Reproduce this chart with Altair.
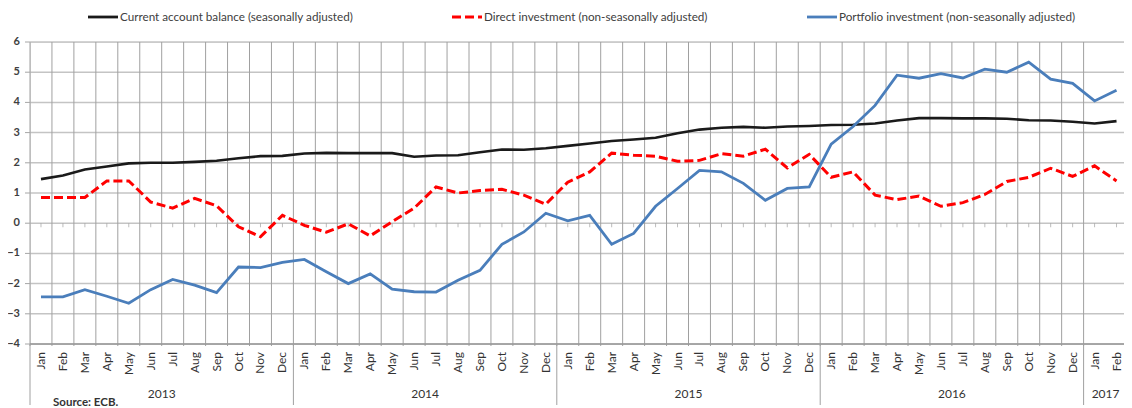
import altair as alt
import pandas as pd

months = ["Jan", "Feb", "Mar", "Apr", "May", "Jun", "Jul", "Aug", "Sep", "Oct", "Nov", "Dec"] * 4 + ["Jan", "Feb"]
month_year = [2013] * 12 + [2014] * 12 + [2015] * 12 + [2016] * 12 + [2017] * 2

current = [1.46, 1.58, 1.78, 1.88, 1.98, 2.0, 2.0, 2.03, 2.07, 2.15, 2.22, 2.23,
           2.31, 2.33, 2.32, 2.32, 2.32, 2.2, 2.24, 2.25, 2.35, 2.44, 2.43, 2.48,
           2.56, 2.64, 2.72, 2.77, 2.83, 2.98, 3.1, 3.16, 3.19, 3.16, 3.2, 3.22,
           3.25, 3.26, 3.3, 3.4, 3.48, 3.48, 3.47, 3.47, 3.46, 3.41, 3.4, 3.36,
           3.3, 3.38]
direct = [0.85, 0.85, 0.85, 1.4, 1.4, 0.7, 0.5, 0.82, 0.58, -0.12, -0.45, 0.26,
          -0.07, -0.3, -0.02, -0.42, 0.05, 0.5, 1.2, 1.0, 1.08, 1.12, 0.93, 0.63,
          1.36, 1.7, 2.32, 2.25, 2.22, 2.05, 2.08, 2.3, 2.22, 2.45, 1.83, 2.28,
          1.52, 1.7, 0.93, 0.78, 0.9, 0.56, 0.68, 0.95, 1.38, 1.52, 1.82, 1.55,
          1.9, 1.4]
portfolio = [-2.44, -2.44, -2.2, -2.42, -2.65, -2.2, -1.86, -2.05, -2.3, -1.45, -1.47, -1.3,
             -1.2, -1.61, -2.0, -1.68, -2.18, -2.27, -2.28, -1.89, -1.56, -0.7, -0.29, 0.33,
             0.08, 0.26, -0.7, -0.34, 0.56, 1.15, 1.75, 1.7, 1.32, 0.76, 1.15, 1.2,
             2.62, 3.2, 3.9, 4.9, 4.8, 4.95, 4.81, 5.1, 5.0, 5.33, 4.77, 4.63,
             4.05, 4.4]

y_ticks = [-4, -3, -2, -1, 0, 1, 2, 3, 4, 5, 6]
series_labels = ["Current account balance (seasonally adjusted)",
                 "Direct investment (non-seasonally adjusted)",
                 "Portfolio investment (non-seasonally adjusted)"]
source_text = "Source: ECB."

FONT = "Lato"
W, H = 1094, 302
STEP = 21.95

idx = list(range(len(months)))
df = pd.DataFrame({"i": idx, "month": months, "year": month_year,
                   "current": current, "direct": direct, "portfolio": portfolio})
df_b = pd.DataFrame({"b": [k - 0.5 for k in idx[:-1]]})
df_y = pd.DataFrame({"v": y_ticks})
df_axis = pd.DataFrame({"v": [min(y_ticks)]})
df_zero = pd.DataFrame({"i": idx, "z": [0] * len(idx)})
firsts = df.groupby("year")["i"].min().reset_index()
df_sep = pd.DataFrame({"b": list(firsts["i"] - 0.5)})
df_yl = df.groupby("year")["i"].mean().reset_index()
df_yl["label"] = df_yl["year"].astype(str)
one = pd.DataFrame({"a": [0]})

xs = alt.Scale(domain=[-0.5, -0.5 + W / STEP], nice=False, zero=False)
ys = alt.Scale(domain=[-4, 6], nice=False, zero=False)

hgrid = alt.Chart(df_y).mark_rule(color="#c4c4c4", strokeWidth=1.5).encode(
    x=alt.value(0), x2=alt.value(W), y=alt.Y("v:Q", scale=ys, axis=None))
yticks = alt.Chart(df_y).mark_rule(color="#a6a6a6", strokeWidth=1).encode(
    x=alt.value(-5), x2=alt.value(0), y=alt.Y("v:Q", scale=ys, axis=None))
ylabels = alt.Chart(df_y).mark_text(align="right", baseline="middle", font=FONT,
                                    fontSize=11, fontWeight="bold", color="#404040").encode(
    x=alt.value(-10), y=alt.Y("v:Q", scale=ys, axis=None), text="v:Q")
vgrid = alt.Chart(df_b).mark_rule(color="#a0a0a0", strokeWidth=1).encode(
    x=alt.X("b:Q", scale=xs, axis=None), y=alt.value(0), y2=alt.value(H + 2))
axis_line = alt.Chart(df_axis).mark_rule(color="#999999", strokeWidth=1.5).encode(
    x=alt.value(0), x2=alt.value(W), y=alt.Y("v:Q", scale=ys, axis=None))
zero_ticks = alt.Chart(df_zero).mark_tick(color="#a0a0a0", thickness=1, size=4, orient="vertical",
                                          yOffset=2).encode(
    x=alt.X("i:Q", scale=xs, axis=None), y=alt.Y("z:Q", scale=ys, axis=None))
seps = alt.Chart(df_sep).mark_rule(color="#a0a0a0", strokeWidth=1).encode(
    x=alt.X("b:Q", scale=xs, axis=None), y=alt.value(H), y2=alt.value(H + 61))
mlabels = alt.Chart(df).mark_text(angle=270, align="right", baseline="middle", font=FONT,
                                  fontSize=12, color="#333333").encode(
    x=alt.X("i:Q", scale=xs, axis=None), y=alt.value(H + 8), text="month:N")
ylab = alt.Chart(df_yl).mark_text(align="center", baseline="middle", font=FONT,
                                  fontSize=12, color="#333333").encode(
    x=alt.X("i:Q", scale=xs, axis=None), y=alt.value(H + 50), text="label:N")
source = alt.Chart(one).mark_text(align="left", baseline="middle", font=FONT, fontSize=11.5,
                                  fontWeight="bold", color="#333333", text=source_text).encode(
    x=alt.value(23), y=alt.value(H + 59))

l_cur = alt.Chart(df).mark_line(color="#1a1a1a", strokeWidth=2.6).encode(
    x=alt.X("i:Q", scale=xs, axis=None), y=alt.Y("current:Q", scale=ys, axis=None))
l_dir = alt.Chart(df).mark_line(color="#ff0000", strokeWidth=3, strokeDash=[9, 4]).encode(
    x=alt.X("i:Q", scale=xs, axis=None), y=alt.Y("direct:Q", scale=ys, axis=None))
l_port = alt.Chart(df).mark_line(color="#4a7ebb", strokeWidth=2.8).encode(
    x=alt.X("i:Q", scale=xs, axis=None), y=alt.Y("portfolio:Q", scale=ys, axis=None))

LY = -25
leg = []
for (x0, color, dash, label) in [(58, "#1a1a1a", None, series_labels[0]),
                                 (422, "#ff0000", [9, 4], series_labels[1]),
                                 (777, "#4a7ebb", None, series_labels[2])]:
    kw = dict(color=color, strokeWidth=2.8)
    if dash:
        kw["strokeDash"] = dash
    leg.append(alt.Chart(one).mark_rule(**kw).encode(
        x=alt.value(x0), x2=alt.value(x0 + 30), y=alt.value(LY)))
    leg.append(alt.Chart(one).mark_text(align="left", baseline="middle", font=FONT, fontSize=11.7,
                                        color="#404040", text=label).encode(
        x=alt.value(x0 + 32), y=alt.value(LY)))

chart = alt.layer(hgrid, vgrid, yticks, axis_line, zero_ticks, seps, ylabels, mlabels, ylab, source,
                  l_cur, l_dir, l_port, *leg).properties(
    width=W, height=H,
    padding={"left": 22, "top": 34, "right": 0, "bottom": 64},
    autosize=alt.AutoSizeParams(type="none"),
).configure_view(stroke=None).configure(background="white")

chart.save("out.html", embed_options={"renderer": "svg", "actions": False})
